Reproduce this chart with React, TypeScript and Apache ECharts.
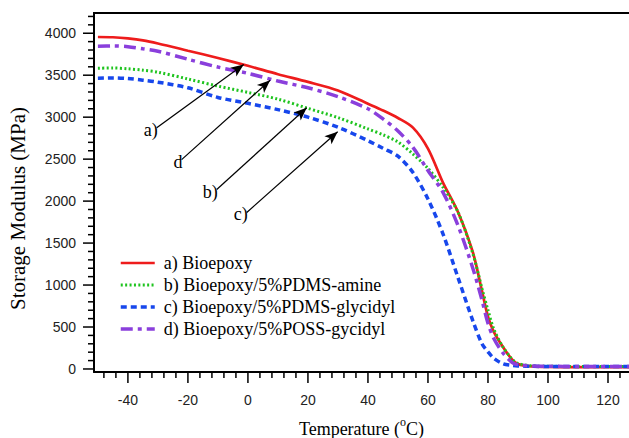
import React, { useEffect, useRef } from "react";
import * as echarts from "echarts";

const temps = [-50, -45, -40, -35, -30, -20, -10, 0, 10, 20, 30, 40, 45, 50, 55, 60, 65, 70, 75, 78, 80, 82, 85, 88, 90, 95, 100, 110, 120, 130];
const bioepoxy = [3955, 3952, 3938, 3915, 3878, 3792, 3705, 3612, 3512, 3420, 3318, 3160, 3080, 2990, 2875, 2625, 2220, 1870, 1385, 930, 625, 440, 262, 115, 58, 30, 24, 22, 22, 22];
const pdmsAmine = [3583, 3586, 3576, 3560, 3536, 3455, 3370, 3295, 3215, 3105, 2995, 2860, 2790, 2705, 2560, 2390, 2165, 1870, 1370, 960, 700, 470, 262, 120, 66, 36, 32, 30, 30, 30];
const pdmsGlycidyl = [3464, 3468, 3460, 3441, 3417, 3350, 3235, 3165, 3090, 3000, 2880, 2720, 2630, 2535, 2340, 2025, 1610, 1090, 570, 300, 205, 125, 62, 42, 36, 32, 30, 30, 30, 30];
const possGlycidyl = [3845, 3848, 3840, 3815, 3786, 3690, 3597, 3522, 3430, 3350, 3245, 3100, 2980, 2835, 2640, 2365, 2105, 1710, 1195, 820, 545, 360, 190, 80, 52, 35, 32, 30, 30, 30];

const seriesNames = [
  "a) Bioepoxy",
  "b) Bioepoxy/5%PDMS-amine",
  "c) Bioepoxy/5%PDMS-glycidyl",
  "d) Bioepoxy/5%POSS-gycidyl",
];

const xTicks = [-40, -20, 0, 20, 40, 60, 80, 100, 120];
const xMinorTicks = [-48, -44, -36, -32, -28, -24, -16, -12, -8, -4, 4, 8, 12, 16, 24, 28, 32, 36, 44, 48, 52, 56, 64, 68, 72, 76, 84, 88, 92, 96, 104, 108, 112, 116, 124];
const yTicks = [0, 500, 1000, 1500, 2000, 2500, 3000, 3500, 4000];
const yMinorTicks = [100, 200, 300, 400, 600, 700, 800, 900, 1100, 1200, 1300, 1400, 1600, 1700, 1800, 1900, 2100, 2200, 2300, 2400, 2600, 2700, 2800, 2900, 3100, 3200, 3300, 3400, 3600, 3700, 3800, 3900, 4100, 4200];

// Arrow annotations (data coords): [start, end]
const arrows = [
  { label: "a)", from: [-30.4, 2874], to: [-1.4, 3628] },
  { label: "d", from: [-22.1, 2494], to: [7.4, 3440] },
  { label: "b)", from: [-10.4, 2138], to: [19.6, 3112] },
  { label: "c)", from: [-0.4, 1865], to: [29.9, 2827] },
];

const X_MIN = -51.3;
const X_MAX = 127;
const Y_MIN = -36;
const Y_MAX = 4241;

export default function App() {
  const ref = useRef<HTMLDivElement>(null);

  useEffect(() => {
    document.body.style.margin = "0";
    if (!ref.current) return;
    const chart = echarts.init(ref.current, null, { renderer: "svg" });

    const toPairs = (arr: number[]) => temps.map((t, i) => [t, arr[i]]);
    const serif = "'Liberation Serif', 'Times New Roman', serif";
    const sans = "'Liberation Sans', Arial, sans-serif";

    const styles = [
      { color: "#ee1c1c", width: 2.7, type: "solid" as any },
      { color: "#1fc41f", width: 3, type: [2, 2.4] as any },
      { color: "#1747ec", width: 3.5, type: [6, 4] as any },
      { color: "#8a3fdc", width: 3.5, type: [12, 5, 4, 5] as any },
    ];
    const datasets = [bioepoxy, pdmsAmine, pdmsGlycidyl, possGlycidyl];

    const series: any[] = datasets.map((d, i) => ({
      name: seriesNames[i],
      type: "line",
      data: toPairs(d),
      smooth: 0.3,
      symbol: "none",
      showSymbol: false,
      clip: true,
      lineStyle: { color: styles[i].color, width: styles[i].width, type: styles[i].type, cap: "butt" },
      itemStyle: { color: styles[i].color },
      emphasis: { disabled: true },
    }));

    series[0].markLine = {
      silent: true,
      symbol: ["none", "arrow"],
      symbolSize: [8, 13],
      label: { show: false },
      lineStyle: { color: "#000", width: 1.2, type: "solid" },
      emphasis: { disabled: true },
      data: arrows.map((a) => [{ coord: a.from }, { coord: a.to }]),
    };

    chart.setOption({
      animation: false,
      backgroundColor: "#fff",
      grid: { left: 94, right: 0, top: 13, bottom: 66, containLabel: false, outerBoundsMode: "none" },
      legend: {
        orient: "vertical",
        left: 114,
        top: 249,
        itemWidth: 34,
        itemHeight: 14,
        itemGap: 4,
        selectedMode: false,
        itemStyle: { opacity: 0 },
        lineStyle: { width: "inherit" },
        textStyle: { fontFamily: serif, fontSize: 18, lineHeight: 18, color: "#000", padding: [0, 0, 0, 4] },
        data: seriesNames,
      },
      xAxis: {
        type: "value",
        position: "bottom",
        min: X_MIN,
        max: X_MAX,
        axisLine: { show: true, onZero: false, lineStyle: { color: "#000", width: 2 } },
        axisTick: { show: false },
        axisLabel: { customValues: xTicks, margin: 21, color: "#222", fontFamily: sans, fontSize: 14, formatter: (v: number) => String(v) },
        splitLine: { show: false },
        name: "{n|Temperature (}{s|o}{n|C)}",
        nameLocation: "middle",
        nameGap: 44,
        nameTextStyle: {
          rich: {
            n: { fontFamily: serif, fontSize: 18, color: "#000", lineHeight: 22, verticalAlign: "bottom" },
            s: { fontFamily: serif, fontSize: 12, color: "#000", lineHeight: 12, verticalAlign: "top" },
          },
        },
      },
      yAxis: {
        type: "value",
        position: "left",
        min: Y_MIN,
        max: Y_MAX,
        axisLine: { show: true, onZero: false, lineStyle: { color: "#000", width: 2 } },
        axisTick: { show: false },
        axisLabel: { customValues: yTicks, margin: 18, color: "#222", fontFamily: sans, fontSize: 14, formatter: (v: number) => String(v) },
        splitLine: { show: false },
        name: "Storage Modulus (MPa)",
        nameLocation: "middle",
        nameGap: 66,
        nameTextStyle: { fontFamily: serif, fontSize: 21, color: "#000", padding: [0, 32, 0, 0] },
      },
      series,
    });

    // Ticks, top frame and annotation labels: positions obtained from the chart's own scales.
    const toPx = (x: number, y: number) => chart.convertToPixel({ gridIndex: 0 }, [x, y]) as number[];
    const box = (x: number, y: number, width: number, height: number) => ({
      type: "rect",
      silent: true,
      z: 10,
      shape: { x, y, width, height },
      style: { fill: "#000" },
    });
    const elements: any[] = [];
    xTicks.forEach((v) => { const p = toPx(v, Y_MIN); elements.push(box(p[0] - 0.75, p[1], 1.5, 11)); });
    xMinorTicks.forEach((v) => { const p = toPx(v, Y_MIN); elements.push(box(p[0] - 0.75, p[1], 1.5, 6)); });
    yTicks.forEach((v) => { const p = toPx(X_MIN, v); elements.push(box(p[0] - 11, p[1] - 0.75, 11, 1.5)); });
    yMinorTicks.forEach((v) => { const p = toPx(X_MIN, v); elements.push(box(p[0] - 6, p[1] - 0.75, 6, 1.5)); });
    const tl = toPx(X_MIN, Y_MAX);
    const tr = toPx(X_MAX, Y_MAX);
    elements.push({
      type: "line",
      silent: true,
      z: 10,
      shape: { x1: tl[0] - 1, y1: tl[1], x2: tr[0], y2: tr[1] },
      style: { stroke: "#000", lineWidth: 2 },
    });
    arrows.forEach((a) => {
      const p = toPx(a.from[0], a.from[1]);
      elements.push({
        type: "text",
        silent: true,
        z: 10,
        x: p[0] + 1,
        y: p[1] + 2,
        style: { text: a.label, fontFamily: serif, fontSize: 18, fill: "#000", align: "right", verticalAlign: "middle" },
      });
    });
    chart.setOption({ graphic: { elements } });

    return () => chart.dispose();
  }, []);

  return <div ref={ref} style={{ width: 629, height: 438 }} />;
}
